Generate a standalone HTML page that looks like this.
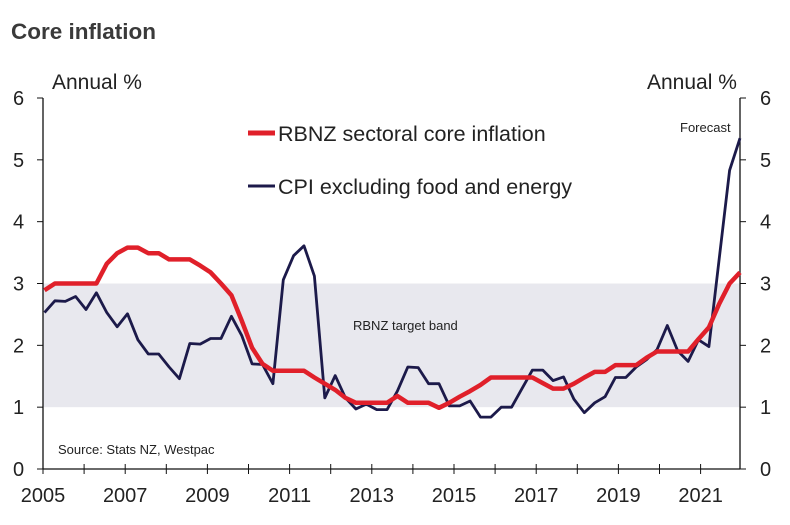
<!DOCTYPE html>
<html><head><meta charset="utf-8"><style>
body{margin:0;background:#fff;}
svg{display:block;font-family:"Liberation Sans",sans-serif;}
</style></head><body>
<svg id="chart" width="790" height="525">
<text x="11" y="39" font-size="22.5" font-weight="bold" fill="#3a3a3a">Core inflation</text>
<rect id="band" x="43" width="697" fill="#e8e8ee"/>
<text x="353" y="330" font-size="13" fill="#222">RBNZ target band</text>
<text x="52" y="89" font-size="21" fill="#222">Annual %</text>
<text x="647" y="89" font-size="21" fill="#222">Annual %</text>
<text x="680" y="132" font-size="13" fill="#222">Forecast</text>
<text x="58" y="454" font-size="13" fill="#222">Source: Stats NZ, Westpac</text>
<g>
<line x1="248" y1="133" x2="275" y2="133" stroke="#e0202a" stroke-width="5"/>
<text x="278" y="141" font-size="21.5" fill="#222">RBNZ sectoral core inflation</text>
<line x1="248" y1="186" x2="275" y2="186" stroke="#1c1a4a" stroke-width="3"/>
<text x="278" y="194" font-size="21.5" fill="#222">CPI excluding food and energy</text>
</g>
<g id="axes"></g>
<g id="series"></g>
</svg>
<script>
const yTicks=[0,1,2,3,4,5,6];
const xTickYears=[2005,2006,2007,2008,2009,2010,2011,2012,2013,2014,2015,2016,2017,2018,2019,2020,2021];
const xLabelYears=[2005,2007,2009,2011,2013,2015,2017,2019,2021];
const bandRange=[1,3];
const rbnzCore=[2.89,3.0,3.0,3.0,3.0,3.0,3.32,3.49,3.58,3.58,3.49,3.49,3.39,3.39,3.39,3.29,3.18,3.0,2.81,2.4,1.96,1.70,1.59,1.59,1.59,1.59,1.48,1.38,1.28,1.15,1.07,1.07,1.07,1.07,1.18,1.07,1.07,1.07,0.99,1.07,1.17,1.26,1.36,1.48,1.48,1.48,1.48,1.48,1.39,1.30,1.30,1.38,1.48,1.57,1.57,1.68,1.68,1.68,1.80,1.90,1.90,1.90,1.90,2.10,2.29,2.67,3.0,3.18];
const cpiExFE=[2.53,2.72,2.71,2.79,2.58,2.85,2.53,2.30,2.51,2.09,1.86,1.86,1.65,1.46,2.03,2.02,2.11,2.11,2.47,2.16,1.70,1.69,1.38,3.06,3.45,3.61,3.12,1.15,1.51,1.15,0.97,1.05,0.96,0.96,1.26,1.65,1.64,1.38,1.38,1.02,1.02,1.10,0.84,0.84,1.00,1.00,1.30,1.60,1.60,1.43,1.49,1.13,0.91,1.07,1.17,1.48,1.48,1.65,1.77,1.93,2.32,1.91,1.74,2.09,1.98,3.4,4.83,5.35];
const NS='http://www.w3.org/2000/svg';
const X0=43,X1=740,Y0=469,Y6=98;
const yS=v=>Y0-(v/6)*(Y0-Y6);
const yearS=yr=>43+(yr-2005)*41.1;
const idxS=i=>44.5+i*(695.5/67);
function mk(tag,attrs,parent){const e=document.createElementNS(NS,tag);for(const k in attrs)e.setAttribute(k,attrs[k]);parent.appendChild(e);return e;}
const band=document.getElementById('band');
band.setAttribute('y',yS(bandRange[1]));band.setAttribute('height',yS(bandRange[0])-yS(bandRange[1]));
const ax=document.getElementById('axes');
let e;
e=mk('line',{x1:X0,y1:Y6,x2:X0,y2:Y0,stroke:'#111','stroke-width':1.3},ax);


e=mk('line',{x1:X1,y1:Y6,x2:X1,y2:Y0,stroke:'#111','stroke-width':1.3},ax);


e=mk('line',{x1:X0,y1:Y0,x2:X1,y2:Y0,stroke:'#111','stroke-width':1.3},ax);


yTicks.forEach(v=>{
  const y=yS(v);
  mk('line',{x1:X0-6,y1:y,x2:X0,y2:y,stroke:'#111'},ax);
  mk('line',{x1:X1,y1:y,x2:X1+6,y2:y,stroke:'#111'},ax);
  e=mk('text',{x:13,y:y+7,'font-size':20,fill:'#222'},ax);e.textContent=v;
  
  
  e=mk('text',{x:760,y:y+7,'font-size':20,fill:'#222'},ax);e.textContent=v;
  
  
});
xTickYears.forEach(yr=>{const x=yearS(yr);mk('line',{x1:x,y1:Y0-5,x2:x,y2:Y0+5,stroke:'#111'},ax);});
xLabelYears.forEach(yr=>{
  e=mk('text',{x:yearS(yr),y:502,'font-size':20,fill:'#222','text-anchor':'middle'},ax);e.textContent=yr;
  
  
});
const sg=document.getElementById('series');
function line(data,color,w,name){
  const p=mk('polyline',{points:data.map((v,i)=>idxS(i).toFixed(1)+','+yS(v).toFixed(1)).join(' '),fill:'none',stroke:color,'stroke-width':w,'stroke-linejoin':'round'},sg);
  
  
}
line(cpiExFE,'#1c1a4a',2.8,'cpi-ex-food-energy-line');
line(rbnzCore,'#e0202a',4.5,'rbnz-sectoral-core-line');
</script>
</body></html>
